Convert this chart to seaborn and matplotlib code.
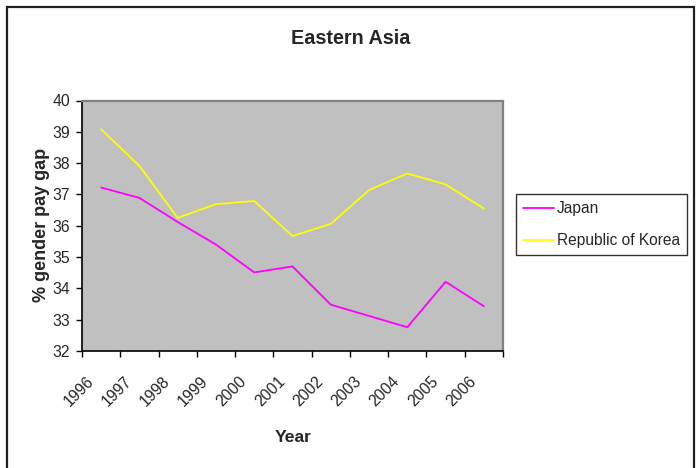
import matplotlib
matplotlib.use("Agg")
import matplotlib.pyplot as plt
import seaborn as sns
import pandas as pd
from matplotlib.patches import Rectangle
from matplotlib.lines import Line2D
from matplotlib.transforms import ScaledTranslation

years = ["1996", "1997", "1998", "1999", "2000", "2001",
         "2002", "2003", "2004", "2005", "2006"]
japan = [37.22, 36.89, 36.12, 35.40, 34.51, 34.70,
         33.48, 33.12, 32.76, 34.21, 33.43]
korea = [39.08, 37.91, 36.25, 36.69, 36.79, 35.67,
         36.06, 37.14, 37.67, 37.32, 36.55]
series_names = ["Japan", "Republic of Korea"]
series_colors = ["#FF00FF", "#FFFF00"]

rows = []
for name, vals in zip(series_names, [japan, korea]):
    for i, (y, v) in enumerate(zip(years, vals)):
        rows.append({"pos": i, "Year": y, "gap": v, "Country": name})
df = pd.DataFrame(rows)

sns.set_style("white")
plt.rcParams["font.family"] = ["Liberation Sans", "DejaVu Sans"]

W, H = 696, 468
fig = plt.figure(figsize=(W / 100, H / 100), dpi=100)
ax = fig.add_axes([82 / W, 1 - 351 / H, 421 / W, 250.5 / H])
ax.set_facecolor("#C0C0C0")

sns.lineplot(data=df, x="pos", y="gap", hue="Country",
             palette=dict(zip(series_names, series_colors)),
             linewidth=1.3, ax=ax, legend=False)

ax.set_xlim(-0.5, len(years) - 0.5)
ax.set_ylim(32, 40)
ax.set_yticks(range(32, 41))
ax.set_yticklabels([str(v) for v in range(32, 41)], fontsize=11.3)
# category boundaries carry the tick marks, centres carry the labels
ax.set_xticks([i - 0.5 for i in range(len(years) + 1)])
ax.set_xticklabels([])
ax.set_xticks(range(len(years)), minor=True)
ax.set_xticklabels(years, minor=True, rotation=45, fontsize=11.3,
                   ha="right", va="center", rotation_mode="anchor")
ax.tick_params(axis="x", which="major", direction="out", length=4.5,
               width=1, color="black", bottom=True)
ax.tick_params(axis="x", which="minor", length=0, pad=20)
ax.tick_params(axis="y", which="major", direction="out", length=4,
               width=1, color="black", left=True, pad=4.5)
shift = ScaledTranslation(-0.10, 0, fig.dpi_scale_trans)
for lbl in ax.get_xticklabels(minor=True):
    lbl.set_transform(lbl.get_transform() + shift)

for side in ["left", "bottom"]:
    ax.spines[side].set_color("black")
    ax.spines[side].set_linewidth(1.2)
for side in ["top", "right"]:
    ax.spines[side].set_color("#808080")
    ax.spines[side].set_linewidth(1.6)

ax.set_xlabel("Year", fontsize=12.6, fontweight="bold")
ax.xaxis.set_label_coords((293 - 82) / 421, (351 - 438) / 250.5)
ax.xaxis.label.set_va("center")
ax.set_ylabel("% gender pay gap", fontsize=13, fontweight="bold")
ax.yaxis.set_label_coords((42 - 82) / 421, (351 - 225) / 250.5)
ax.yaxis.label.set_va("center")
fig.text(351 / W, 1 - 39 / H, "Eastern Asia", fontsize=14.2,
         fontweight="bold", ha="center", va="center")

handles = [Line2D([], [], color=c, lw=1.3) for c in series_colors]
leg = fig.legend(handles, series_names, loc="upper left",
                 bbox_to_anchor=(516 / W, 1 - 194 / H),
                 frameon=True, fancybox=False, fontsize=11.2,
                 handlelength=2.0, handletextpad=0.2, borderpad=0.45,
                 labelspacing=1.1, borderaxespad=0)
leg.get_frame().set_edgecolor("black")
leg.get_frame().set_linewidth(1.0)

# chart-area border
fig.patches.append(Rectangle((7 / W, -0.01), 687 / W, 1.01 - 6.5 / H,
                             transform=fig.transFigure, fill=False,
                             edgecolor="#202020", linewidth=1.6))

fig.savefig("out.png", dpi=100)
